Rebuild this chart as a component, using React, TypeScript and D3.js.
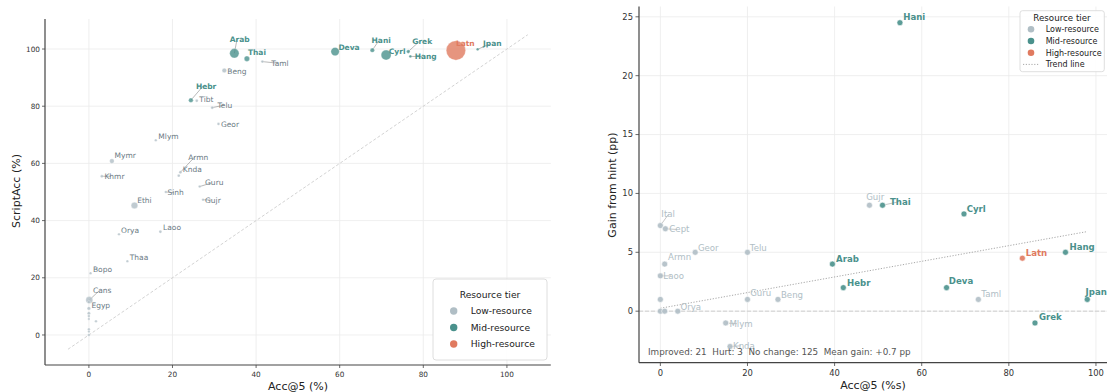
import React from "react";
import * as d3 from "d3";

// ---------- shared ----------
const tierNames = ["Low-resource", "Mid-resource", "High-resource"];
const tierColors = ["#b0bec5", "#4a918c", "#e07a5f"];

// ---------- left panel: ScriptAcc vs Acc@5 ----------
const leftScripts = [
  "Arab", "Thai", "Taml", "Beng", "Hebr", "Tibt", "Telu", "Geor", "Mlym", "Mymr",
  "Khmr", "Armn", "Knda", "Guru", "Sinh", "Gujr", "Ethi", "Orya", "Laoo", "Thaa",
  "Bopo", "Cans", "Egyp", "Deva", "Hani", "Cyrl", "Grek", "Hang", "Latn", "Jpan",
  "", "", "", "", "", "", "", "",
];
const leftAcc = [
  34.8, 37.8, 41.5, 32.4, 24.4, 25.8, 29.5, 31.0, 16.0, 5.5,
  3.1, 21.9, 21.5, 26.5, 18.4, 27.3, 10.9, 7.2, 17.1, 9.2,
  0.4, 0.1, 0.0, 58.9, 67.8, 71.1, 76.4, 76.9, 87.8, 93.0,
  0, 0, 0, 0, 1.7, 0, 0, 0,
];
const leftScriptAcc = [
  98.5, 96.6, 95.6, 92.5, 82.1, 81.9, 79.5, 73.8, 68.1, 60.8,
  55.5, 56.9, 55.7, 51.9, 50.0, 47.3, 45.3, 35.2, 36.1, 25.8,
  21.6, 12.2, 11.5, 99.1, 99.6, 97.9, 99.1, 97.4, 99.5, 99.9,
  9.3, 7.6, 6.6, 5.6, 4.8, 2.0, 1.2, 0.0,
];
const leftTier = [
  1, 1, 0, 0, 1, 0, 0, 0, 0, 0,
  0, 0, 0, 0, 0, 0, 0, 0, 0, 0,
  0, 0, 0, 1, 1, 1, 1, 1, 2, 1,
  0, 0, 0, 0, 0, 0, 0, 0,
];
const leftSamples = [
  220, 73, 20, 53, 53, 22, 22, 20, 17, 53,
  20, 22, 20, 17, 17, 17, 109, 17, 22, 17,
  17, 122, 22, 176, 48, 250, 32, 20, 940, 20,
  30, 25, 17, 14, 17, 17, 14, 17,
];
const leftTicks = [0, 20, 40, 60, 80, 100];
const diagonalRange = [-5, 105];

// ---------- right panel: gain vs Acc@5 ----------
const rightScripts = [
  "Ital", "Cept", "Geor", "Telu", "Armn", "Laoo", "", "Guru", "Beng", "",
  "", "Orya", "Mlym", "Knda", "Arab", "Hebr", "Gujr", "Thai", "Cyrl", "Hang",
  "Latn", "Deva", "Taml", "Jpan", "Grek", "Hani",
];
const rightAcc = [
  0, 1.15, 8.0, 20, 1, 0, 0, 20, 27, 0,
  1, 4, 15, 16, 39.5, 42, 48, 51, 69.7, 93,
  83.1, 65.7, 73, 98, 86, 55,
];
const rightGain = [
  7.27, 7.0, 5.0, 5.0, 4.0, 3.0, 1.0, 1.0, 1.0, 0.0,
  0.0, 0.0, -1.0, -3.0, 4.0, 2.0, 9.0, 9.0, 8.26, 5.0,
  4.5, 2.0, 1.0, 1.0, -1.0, 24.5,
];
const rightTier = [
  0, 0, 0, 0, 0, 0, 0, 0, 0, 0,
  0, 0, 0, 0, 1, 1, 0, 1, 1, 1,
  2, 1, 0, 1, 1, 1,
];
const rightXTicks = [0, 20, 40, 60, 80, 100];
const rightYTicks = [0, 5, 10, 15, 20, 25];
const trendX = [0, 98];
const trendY = [0.25, 6.76];
const summaryText = "Improved: 21  Hurt: 3  No change: 125  Mean gain: +0.7 pp";

// ---------- label layout (pixel offsets of label left/centre from point) ----------
const leftLabelOffset: Record<string, [number, number]> = {
  Arab: [-4.7, -14], Thai: [1, -6.5], Taml: [9, 1.6], Beng: [3, 0.7], Hebr: [5, -14.3],
  Tibt: [2.6, -1.7], Telu: [5.3, -2.4], Geor: [2.4, 0.3], Mlym: [2.6, -4], Mymr: [2.6, -6],
  Khmr: [2.6, 0], Armn: [7.7, -15.3], Knda: [4, -6.4], Guru: [5.4, -3.7], Sinh: [1.6, 0.7],
  Gujr: [2, 0.3], Ethi: [2.7, -4.6], Orya: [2, -4], Laoo: [2.7, -4], Thaa: [2.4, -4.3],
  Bopo: [2.4, -4], Cans: [3.7, -9.7], Egyp: [2.5, 3.5], Deva: [3.3, -4.4], Hani: [-0.7, -9.7],
  Cyrl: [2.7, -3.3], Grek: [4, -10.4], Hang: [4.3, 0], Latn: [0, -6.6], Jpan: [5.4, -5.6],
};
const leftLeaders = new Set(["Arab", "Taml", "Hebr", "Telu", "Khmr", "Armn", "Guru", "Sinh", "Gujr", "Cans", "Hani", "Grek", "Hang", "Jpan"]);

const rightLabelOffset: Record<string, [number, number]> = {
  Ital: [1, -11.7], Cept: [4, 0.7], Geor: [2.7, -4.6], Telu: [2.4, -4.6], Armn: [3.4, -6.6],
  Laoo: [3, 0], Guru: [2.7, -6.7], Beng: [3, -4.7], Orya: [2.7, -4.3], Mlym: [3.7, 0.7],
  Knda: [3, -0.7], Arab: [3.7, -5.3], Hebr: [3.7, -4.7], Gujr: [-3.3, -8.3], Thai: [7.4, -3.3],
  Cyrl: [2.7, -4.7], Hang: [4, -5.3], Latn: [3.4, -5], Deva: [2.3, -6.7], Taml: [3, -5],
  Jpan: [-1.7, -7], Grek: [4, -5.6], Hani: [3.3, -5.4],
};
const rightLeaders = new Set(["Ital", "Cept", "Laoo", "Mlym", "Knda", "Thai"]);

const FONT = "DejaVu Sans, Verdana, sans-serif";
const leftLabelColors = ["#6b7a84", "#4a918c", "#e07a5f"];
const rightLabelColors = ["#b0bec5", "#4a918c", "#e07a5f"];

function textWidth(s: string, fs: number, bold: boolean) {
  return s.length * fs * (bold ? 0.7 : 0.62);
}

function padDomain(lo: number, hi: number): [number, number] {
  const p = (hi - lo) * 0.05;
  return [lo - p, hi + p];
}

export default function App() {
  // ----- left scales -----
  const lDom = padDomain(diagonalRange[0], diagonalRange[1]);
  const xL = d3.scaleLinear().domain(lDom).range([45, 550.8]);
  const yL = d3.scaleLinear().domain(lDom).range([365, 19]);
  const rL = d3.scaleSqrt().domain([0, 1000]).range([0, 10]);

  // ----- right scales -----
  const rxDom = padDomain(d3.min(rightAcc)!, d3.max(rightAcc)!);
  const ryDom = padDomain(d3.min(rightGain)!, d3.max(rightGain)!);
  const xR = d3.scaleLinear().domain(rxDom).range([639, 1108.6]);
  const yR = d3.scaleLinear().domain(ryDom).range([362.7, 6.5]);

  const leftIdx = d3.range(leftScripts.length).sort((a, b) => leftSamples[b] - leftSamples[a]);
  const rightIdx = d3.range(rightScripts.length);

  const gridColor = "#ebebeb";
  const spineColor = "#444";
  const lFs = 7.5;
  const rFs = 8.6;

  const diagLine = d3.line<number>().x((v) => xL(v)).y((v) => yL(v));
  const trendLine = d3.line<number>().x((_, i) => xR(trendX[i])).y((_, i) => yR(trendY[i]));

  return (
    <svg width={1107} height={392} style={{ position: "absolute", left: 0, top: 0, background: "#fff" }} fontFamily={FONT}>
      {/* ================= LEFT PANEL ================= */}
      <g>
        {leftTicks.map((t) => (
          <line key={"lgx" + t} x1={xL(t)} x2={xL(t)} y1={yL.range()[1]} y2={yL.range()[0]} stroke={gridColor} strokeWidth={0.8} />
        ))}
        {leftTicks.map((t) => (
          <line key={"lgy" + t} x1={xL.range()[0]} x2={xL.range()[1]} y1={yL(t)} y2={yL(t)} stroke={gridColor} strokeWidth={0.8} />
        ))}
        <path d={diagLine(diagonalRange) || ""} stroke="#c8c8c8" strokeWidth={0.8} strokeDasharray="3,2" fill="none" />

        {/* leaders */}
        {leftIdx.filter((i) => leftScripts[i] && leftLeaders.has(leftScripts[i])).map((i) => {
          const s = leftScripts[i];
          const off = leftLabelOffset[s];
          const px = xL(leftAcc[i]), py = yL(leftScriptAcc[i]);
          const w = textWidth(s, lFs, leftTier[i] > 0);
          return <line key={"ll" + i} x1={px} y1={py} x2={px + off[0] + w * 0.35} y2={py + off[1]} stroke="#8a8a8a" strokeWidth={0.6} />;
        })}

        {/* points */}
        {leftIdx.map((i) => (
          <circle key={"lp" + i} cx={xL(leftAcc[i])} cy={yL(leftScriptAcc[i])} r={rL(leftSamples[i])}
            fill={tierColors[leftTier[i]]} fillOpacity={0.8} stroke="#fff" strokeWidth={0.3} />
        ))}

        {/* labels */}
        {leftIdx.filter((i) => leftScripts[i]).map((i) => {
          const s = leftScripts[i];
          const off = leftLabelOffset[s];
          return (
            <text key={"lt" + i} x={xL(leftAcc[i]) + off[0]} y={yL(leftScriptAcc[i]) + off[1]} dy="0.35em"
              fontSize={lFs} fontWeight={leftTier[i] > 0 ? "bold" : "normal"} fill={leftLabelColors[leftTier[i]]}>
              {s}
            </text>
          );
        })}

        {/* spines */}
        <line x1={45} x2={45} y1={19} y2={365} stroke={spineColor} strokeWidth={1.2} />
        <line x1={45} x2={550.8} y1={365} y2={365} stroke={spineColor} strokeWidth={1.2} />
        {leftTicks.map((t) => (
          <g key={"ltx" + t}>
            <line x1={xL(t)} x2={xL(t)} y1={365} y2={368} stroke={spineColor} strokeWidth={0.8} />
            <text x={xL(t)} y={376.5} fontSize={7.3} textAnchor="middle" fill="#333">{t}</text>
          </g>
        ))}
        {leftTicks.map((t) => (
          <g key={"lty" + t}>
            <line x1={42} x2={45} y1={yL(t)} y2={yL(t)} stroke={spineColor} strokeWidth={0.8} />
            <text x={40} y={yL(t)} dy="0.35em" fontSize={7.3} textAnchor="end" fill="#333">{t}</text>
          </g>
        ))}
        <text x={298} y={390} fontSize={11} textAnchor="middle" fill="#222">Acc@5 (%)</text>
        <text transform="translate(20,191) rotate(-90)" fontSize={11} textAnchor="middle" fill="#222">ScriptAcc (%)</text>

        {/* legend */}
        <rect x={433} y={279} width={114} height={81} rx={3} fill="#fff" fillOpacity={0.9} stroke="#d5d5d5" strokeWidth={0.8} />
        <text x={490} y={298} fontSize={9.2} textAnchor="middle" fill="#222">Resource tier</text>
        {tierNames.map((n, k) => (
          <g key={"lleg" + k}>
            <circle cx={453.7} cy={311 + k * 16.5} r={3.7} fill={tierColors[k]} />
            <text x={470.7} y={311 + k * 16.5} dy="0.35em" fontSize={9.2} fill="#222">{n}</text>
          </g>
        ))}
      </g>

      {/* ================= RIGHT PANEL ================= */}
      <g>
        {rightXTicks.map((t) => (
          <line key={"rgx" + t} x1={xR(t)} x2={xR(t)} y1={6.5} y2={362.7} stroke={gridColor} strokeWidth={0.8} />
        ))}
        {rightYTicks.map((t) => (
          <line key={"rgy" + t} x1={639} x2={1108.6} y1={yR(t)} y2={yR(t)} stroke={gridColor} strokeWidth={0.8} />
        ))}
        <line x1={639} x2={1108.6} y1={yR(0)} y2={yR(0)} stroke="#cfcfcf" strokeWidth={1} strokeDasharray="4,2" />
        <path d={trendLine(trendX) || ""} stroke="#a8a8a8" strokeWidth={1} strokeDasharray="1.2,1.6" fill="none" />

        {rightIdx.filter((i) => rightScripts[i] && rightLeaders.has(rightScripts[i])).map((i) => {
          const s = rightScripts[i];
          const off = rightLabelOffset[s];
          const px = xR(rightAcc[i]), py = yR(rightGain[i]);
          const w = textWidth(s, rFs, rightTier[i] > 0);
          return <line key={"rl" + i} x1={px} y1={py} x2={px + off[0] + w * 0.35} y2={py + off[1]} stroke="#a0a0a0" strokeWidth={0.6} />;
        })}

        {rightIdx.map((i) => (
          <circle key={"rp" + i} cx={xR(rightAcc[i])} cy={yR(rightGain[i])} r={3}
            fill={tierColors[rightTier[i]]} fillOpacity={0.9} stroke="#fff" strokeWidth={0.6} />
        ))}

        {rightIdx.filter((i) => rightScripts[i]).map((i) => {
          const s = rightScripts[i];
          const off = rightLabelOffset[s];
          return (
            <text key={"rt" + i} x={xR(rightAcc[i]) + off[0]} y={yR(rightGain[i]) + off[1]} dy="0.35em"
              fontSize={rFs} fontWeight={rightTier[i] > 0 ? "bold" : "normal"} fill={rightLabelColors[rightTier[i]]}>
              {s}
            </text>
          );
        })}

        <text x={648} y={354.5} fontSize={8.8} fill="#555" style={{ whiteSpace: "pre" }}>{summaryText}</text>

        <line x1={639} x2={639} y1={6.5} y2={362.7} stroke={spineColor} strokeWidth={1.2} />
        <line x1={639} x2={1108.6} y1={362.7} y2={362.7} stroke={spineColor} strokeWidth={1.2} />
        {rightXTicks.map((t) => (
          <g key={"rtx" + t}>
            <line x1={xR(t)} x2={xR(t)} y1={362.7} y2={366} stroke={spineColor} strokeWidth={0.8} />
            <text x={xR(t)} y={376.3} fontSize={8.4} textAnchor="middle" fill="#333">{t}</text>
          </g>
        ))}
        {rightYTicks.map((t) => (
          <g key={"rty" + t}>
            <line x1={635.5} x2={639} y1={yR(t)} y2={yR(t)} stroke={spineColor} strokeWidth={0.8} />
            <text x={633} y={yR(t)} dy="0.35em" fontSize={8.4} textAnchor="end" fill="#333">{t}</text>
          </g>
        ))}
        <text x={873} y={389} fontSize={11} textAnchor="middle" fill="#222">Acc@5 (%s)</text>
        <text transform="translate(616,185) rotate(-90)" fontSize={11} textAnchor="middle" fill="#222">Gain from hint (pp)</text>

        {/* legend */}
        <rect x={1020} y={10.7} width={84.3} height={61} rx={2.5} fill="#fff" fillOpacity={0.9} stroke="#d5d5d5" strokeWidth={0.8} />
        <text x={1062} y={17.5} dy="0.35em" fontSize={8.7} textAnchor="middle" fill="#222">Resource tier</text>
        {tierNames.map((n, k) => (
          <g key={"rleg" + k}>
            <circle cx={1031} cy={29.3 + k * 11.7} r={3.3} fill={tierColors[k]} />
            <text x={1045.7} y={29.3 + k * 11.7} dy="0.35em" fontSize={8} fill="#222">{n}</text>
          </g>
        ))}
        <line x1={1023} x2={1039} y1={64.4} y2={64.4} stroke="#a8a8a8" strokeWidth={1} strokeDasharray="1.2,1.6" />
        <text x={1045.7} y={64.4} dy="0.35em" fontSize={8} fill="#222">Trend line</text>
      </g>
    </svg>
  );
}
